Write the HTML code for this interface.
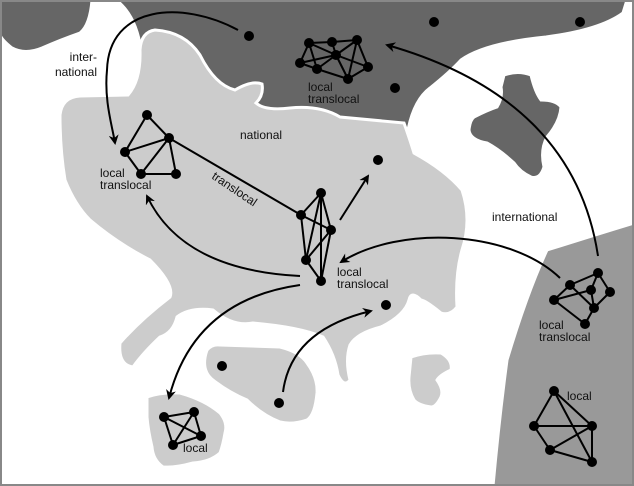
<!DOCTYPE html>
<html><head><meta charset="utf-8"><style>
html,body{margin:0;padding:0;background:#fff}
svg{display:block}
text{font-family:"Liberation Sans",sans-serif;font-size:12px;fill:#111}
</style></head><body>
<svg width="634" height="486" viewBox="0 0 634 486">
<defs>
<marker id="ah" markerWidth="10" markerHeight="10" refX="8" refY="5" orient="auto" markerUnits="userSpaceOnUse">
<path d="M0,0 L10,5 L0,10 L3,5 Z" fill="#000"/>
</marker>
</defs>
<rect x="0" y="0" width="634" height="486" fill="#fff"/>
<!-- right gray region -->
<path d="M634,223 Q601,233 547,250 Q527,293 507,360 Q499,420 493,486 L634,486 Z" fill="#999" stroke="#fff" stroke-width="3"/>
<!-- top dark region -->
<path d="M116,0 Q136,15 141,50 L141,130 L408,130 Q414,100 430,88 Q450,72 461,60 Q485,43 546,37 Q600,30 623,13 L627,0 Z" fill="#666" stroke="#fff" stroke-width="3"/>
<!-- national light region -->
<path d="M60,115 Q62,97 80,96 L128,95 Q141,80 140,50 Q141,32 155,30 Q185,32 200,55 Q215,85 235,90 Q252,80 262,84 Q264,95 256,103 Q265,111 290,108 Q320,105 340,117 L404,123 Q410,140 414,153 Q445,170 462,190 Q472,220 462,250 Q455,275 457,307 Q450,316 441,313 Q425,300 421,300 Q411,290 409,300 Q405,315 381,327 Q357,333 350,345 Q345,360 350,380 Q344,388 338,375 Q335,355 323,337 Q300,327 253,323 Q233,327 213,310 Q190,307 177,317 Q173,333 160,337 Q143,353 133,367 Q118,365 120,343 Q140,320 170,297 Q175,285 150,260 Q117,243 90,220 Q75,205 65,180 Q60,150 60,115 Z" fill="#ccc" stroke="#fff" stroke-width="3"/>
<!-- top-left blob -->
<path d="M0,0 L92,0 Q90,25 80,33 Q60,40 42,48 Q25,55 12,48 Q2,40 0,35 Z" fill="#666" stroke="#fff" stroke-width="3"/>
<!-- small dark blob -->
<path d="M504,75 Q518,70 531,75 Q535,92 541,100 Q556,100 561,107 Q560,122 547,137 Q540,150 544,167 Q540,180 531,177 Q520,172 514,163 Q500,150 487,143 Q470,140 469,130 Q470,120 474,117 Q488,110 497,107 Q503,97 501,87 Z" fill="#666" stroke="#fff" stroke-width="3"/>
<!-- islands -->
<path d="M207,350 Q212,344 220,345 L280,347 Q300,352 307,363 Q318,378 317,393 Q315,415 307,420 Q292,425 280,422 Q262,415 247,400 Q228,392 213,380 Q200,370 207,350 Z" fill="#ccc" stroke="#fff" stroke-width="3"/>
<path d="M147,397 Q160,392 180,393 Q205,400 220,413 Q228,423 225,433 Q223,445 220,453 Q210,462 193,463 Q175,468 163,467 Q153,460 152,447 Q148,430 147,417 Z" fill="#ccc" stroke="#fff" stroke-width="3"/>
<path d="M411,357 Q425,352 441,353 Q453,360 451,370 Q440,375 437,380 Q444,390 441,397 Q436,407 431,407 Q418,405 414,400 Q408,390 409,377 Z" fill="#ccc" stroke="#fff" stroke-width="3"/>
<!-- arrows -->
<g fill="none" stroke="#000" stroke-width="2">
<path d="M238,30 C182,0 109,5 107,70 C104,100 112,125 115,143" marker-end="url(#ah)"/>
<path d="M300,276 Q182,270 147,196" marker-end="url(#ah)"/>
<path d="M560,278 C510,230 400,225 341,262" marker-end="url(#ah)"/>
<path d="M598,256 C582,150 510,80 387,45" marker-end="url(#ah)"/>
<path d="M300,285 Q194,300 169,398" marker-end="url(#ah)"/>
<path d="M283,392 Q291,330 371,311" marker-end="url(#ah)"/>
<path d="M340,220 L368,176" marker-end="url(#ah)"/>
</g>
<!-- edges -->
<g stroke="#000" stroke-width="2">
<line x1="309" y1="43" x2="332" y2="42"/><line x1="332" y1="42" x2="357" y2="40"/>
<line x1="309" y1="43" x2="300" y2="63"/><line x1="309" y1="43" x2="317" y2="69"/>
<line x1="309" y1="43" x2="336" y2="55"/><line x1="332" y1="42" x2="336" y2="55"/>
<line x1="357" y1="40" x2="336" y2="55"/><line x1="357" y1="40" x2="368" y2="67"/>
<line x1="357" y1="40" x2="348" y2="79"/><line x1="300" y1="63" x2="336" y2="55"/>
<line x1="317" y1="69" x2="336" y2="55"/><line x1="317" y1="69" x2="348" y2="79"/>
<line x1="336" y1="55" x2="368" y2="67"/><line x1="348" y1="79" x2="368" y2="67"/>
<line x1="336" y1="55" x2="348" y2="79"/><line x1="300" y1="63" x2="317" y2="69"/>
<line x1="147" y1="115" x2="169" y2="138"/><line x1="147" y1="115" x2="125" y2="152"/>
<line x1="169" y1="138" x2="125" y2="152"/><line x1="125" y1="152" x2="141" y2="174"/>
<line x1="169" y1="138" x2="141" y2="174"/><line x1="169" y1="138" x2="176" y2="174"/>
<line x1="141" y1="174" x2="176" y2="174"/>
<line x1="169" y1="138" x2="301" y2="215"/>
<line x1="301" y1="215" x2="321" y2="193"/><line x1="321" y1="193" x2="331" y2="230"/>
<line x1="301" y1="215" x2="331" y2="230"/><line x1="301" y1="215" x2="306" y2="260"/>
<line x1="321" y1="193" x2="306" y2="260"/><line x1="331" y1="230" x2="306" y2="260"/>
<line x1="331" y1="230" x2="321" y2="281"/><line x1="306" y1="260" x2="321" y2="281"/>
<line x1="321" y1="193" x2="321" y2="281"/>
<line x1="570" y1="285" x2="598" y2="273"/><line x1="598" y1="273" x2="610" y2="292"/>
<line x1="570" y1="285" x2="554" y2="300"/><line x1="554" y1="300" x2="585" y2="324"/>
<line x1="585" y1="324" x2="594" y2="308"/><line x1="594" y1="308" x2="610" y2="292"/>
<line x1="554" y1="300" x2="591" y2="290"/><line x1="591" y1="290" x2="598" y2="273"/>
<line x1="570" y1="285" x2="594" y2="308"/><line x1="591" y1="290" x2="594" y2="308"/>
<line x1="554" y1="391" x2="534" y2="426"/><line x1="554" y1="391" x2="592" y2="426"/>
<line x1="554" y1="391" x2="592" y2="462"/><line x1="534" y1="426" x2="592" y2="426"/>
<line x1="534" y1="426" x2="550" y2="450"/><line x1="550" y1="450" x2="592" y2="426"/>
<line x1="550" y1="450" x2="592" y2="462"/><line x1="592" y1="426" x2="592" y2="462"/>
<line x1="164" y1="417" x2="194" y2="412"/><line x1="194" y1="412" x2="201" y2="436"/>
<line x1="201" y1="436" x2="173" y2="445"/><line x1="173" y1="445" x2="164" y2="417"/>
<line x1="164" y1="417" x2="201" y2="436"/><line x1="194" y1="412" x2="173" y2="445"/>
</g>
<g fill="#000">
<circle cx="309" cy="43" r="5"/><circle cx="332" cy="42" r="5"/><circle cx="357" cy="40" r="5"/>
<circle cx="300" cy="63" r="5"/><circle cx="336" cy="55" r="5"/><circle cx="317" cy="69" r="5"/>
<circle cx="368" cy="67" r="5"/><circle cx="348" cy="79" r="5"/>
<circle cx="249" cy="36" r="5"/><circle cx="434" cy="22" r="5"/><circle cx="580" cy="22" r="5"/><circle cx="395" cy="88" r="5"/>
<circle cx="147" cy="115" r="5"/><circle cx="169" cy="138" r="5"/><circle cx="125" cy="152" r="5"/>
<circle cx="141" cy="174" r="5"/><circle cx="176" cy="174" r="5"/>
<circle cx="301" cy="215" r="5"/><circle cx="321" cy="193" r="5"/><circle cx="331" cy="230" r="5"/>
<circle cx="306" cy="260" r="5"/><circle cx="321" cy="281" r="5"/>
<circle cx="378" cy="160" r="5"/><circle cx="386" cy="305" r="5"/>
<circle cx="222" cy="366" r="5"/><circle cx="279" cy="403" r="5"/>
<circle cx="570" cy="285" r="5"/><circle cx="598" cy="273" r="5"/><circle cx="591" cy="290" r="5"/>
<circle cx="610" cy="292" r="5"/><circle cx="554" cy="300" r="5"/><circle cx="594" cy="308" r="5"/><circle cx="585" cy="324" r="5"/>
<circle cx="554" cy="391" r="5"/><circle cx="534" cy="426" r="5"/><circle cx="592" cy="426" r="5"/>
<circle cx="550" cy="450" r="5"/><circle cx="592" cy="462" r="5"/>
<circle cx="164" cy="417" r="5"/><circle cx="194" cy="412" r="5"/><circle cx="201" cy="436" r="5"/><circle cx="173" cy="445" r="5"/>
</g>
<text x="308" y="91">local</text><text x="308" y="103">translocal</text>
<text x="100" y="177">local</text><text x="100" y="189">translocal</text>
<text x="337" y="276">local</text><text x="337" y="288">translocal</text>
<text x="539" y="329">local</text><text x="539" y="341">translocal</text>
<text x="567" y="400">local</text>
<text x="183" y="452">local</text>
<text x="240" y="139">national</text>
<text x="97" y="61" text-anchor="end">inter-</text>
<text x="97" y="76" text-anchor="end">national</text>
<text x="492" y="221">international</text>
<text x="0" y="0" transform="translate(211,178) rotate(34)">translocal</text>
<rect x="1" y="1" width="632" height="484" fill="none" stroke="#888" stroke-width="2"/>
</svg>
</body></html>
